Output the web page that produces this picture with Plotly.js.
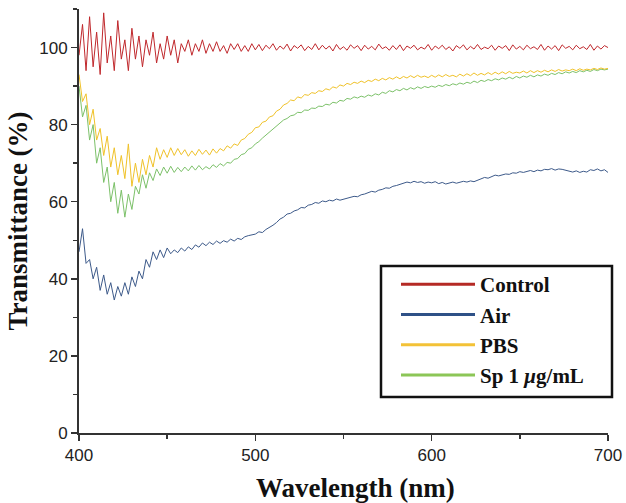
<!DOCTYPE html>
<html>
<head>
<meta charset="utf-8">
<script src="https://cdn.plot.ly/plotly-3.0.1.min.js"></script>
<style>html,body{margin:0;padding:0;background:#fff;}#chart{width:626px;height:503px;}</style>
</head>
<body>
<div id="chart"></div>
<script>
// Wavelength grid: 400 nm to 700 nm, every 2 nm
const wlStart = 400, wlStep = 2, wlCount = 151;
const wavelength = [];
for (let i = 0; i < wlCount; i++) wavelength.push(wlStart + i * wlStep);

const seriesNames = ["Control", "Air", "PBS", "Sp 1 <i>μ</i>g/mL"];

const control = [
  98, 106, 94, 108, 95, 104, 93, 109, 96, 103,
  94, 107, 97, 102, 94, 105, 97, 103, 95, 102,
  98, 104, 96, 101, 97, 103, 98, 102, 96, 101,
  99, 102, 98, 101, 99, 102, 98.5, 101, 99, 101.5,
  99, 100.5, 98.5, 101, 99.5, 101, 99, 100.5, 99, 101,
  99.4, 100.8, 99.2, 100.6, 99.7, 101, 99.3, 100.4, 99.6, 100.9,
  99.1, 100.5, 99.8, 100.7, 99.2, 100.3, 99.5, 101, 99.4, 100.6,
  99.6, 100.4, 99.1, 100.8, 99.5, 100.2, 99.3, 100.7, 99.8, 100.5,
  99.2, 100.6, 99.6, 100.3, 99.4, 100.9, 99.7, 100.2, 99.3, 100.5,
  99.5, 100.7, 99.2, 100.4, 99.8, 100.6, 99.4, 100.1, 99.6, 100.8,
  99.3, 100.4, 99.7, 100.6, 99.5, 100.2, 99.1, 100.5, 99.8, 100.7,
  99.4, 100.3, 99.6, 100.8, 99.5, 100.1, 99.7, 100.6, 99.3, 100.4,
  99.8, 100.5, 99.2, 100.7, 99.6, 100.3, 99.4, 100.6, 99.7, 100.2,
  99.5, 100.8, 99.3, 100.4, 99.6, 100.5, 99.2, 100.7, 99.8, 100.3,
  99.4, 100.6, 99.7, 100.2, 99.5, 100.8, 99.3, 100.4, 99.6, 100.5,
  100
];

const air = [
  47, 53, 44, 45, 40, 43, 37, 41, 36, 39,
  34.5, 38, 35.5, 39, 36, 40.5, 38, 42, 40, 45,
  43, 47, 45, 47.5, 45.5, 48, 46.5, 47.5, 46.8, 48,
  47.2, 48.3, 47.6, 48.8, 48.2, 49.3, 48.6, 49.5, 48.9, 49.8,
  49.2, 49.9, 49.5, 50.3, 49.8, 50.5, 50.2, 50.9, 51.2, 51.4,
  51.6, 52.2, 52.0, 52.8, 53.3, 53.9, 54.6, 55.5, 56.0, 56.8,
  57.0, 57.6, 57.9, 58.5, 58.4, 59.1, 59.3, 59.8, 59.6, 60.2,
  60.0, 60.4, 60.2, 60.7, 60.4, 60.6, 60.9, 61.0, 61.4, 61.3,
  61.8, 62.0, 62.3, 62.7, 62.5, 63.0, 63.2, 63.6, 63.5, 64.0,
  64.2, 64.5, 64.7, 65.1, 64.9, 65.3, 65.0, 65.2, 64.8, 65.1,
  64.9, 65.2, 64.7, 65.0, 64.6, 64.9, 65.1, 64.8, 65.0, 65.3,
  65.1, 65.4, 65.2, 65.6, 65.9, 66.3, 66.1, 66.6, 66.9, 66.7,
  67.0, 67.2, 67.1, 67.5, 67.4, 67.8, 67.6, 67.9, 68.1, 67.8,
  68.2, 68.0, 68.4, 68.3, 68.6, 68.2, 68.5, 68.4, 68.1, 67.9,
  67.7, 68.0, 67.6, 67.9, 67.7, 68.3, 68.1, 68.5, 68.0, 68.3,
  67.6
];

const pbs = [
  93, 86, 88, 80, 84, 76, 79, 72, 77, 69,
  74, 67, 72, 66, 75, 64, 70, 65, 71, 67,
  72, 69, 74, 71, 73.5, 71.5, 74, 72, 73.8, 72.2,
  73.5, 71.8, 73.2, 72, 73.6, 72.3, 73.4, 72.1, 73.7, 72.6,
  73.8, 73.2, 74.5, 73.9, 75.0, 74.6, 76.0, 76.4, 77.5, 78.0,
  79.2, 79.4, 80.6, 80.9, 82.0, 82.3, 83.5, 84.0, 85.1, 85.5,
  86.4, 86.2, 87.2, 86.9, 87.8, 87.6, 88.3, 88.1, 88.8, 88.6,
  89.3, 89.0, 89.8, 89.5, 90.3, 90.0, 90.7, 90.4, 91.0, 90.7,
  91.3, 90.9, 91.5, 91.2, 91.8, 91.4, 92.0, 91.6, 92.2, 91.8,
  92.4, 91.9, 92.5, 92.1, 92.7, 92.2, 92.8, 92.3, 92.6, 92.2,
  92.8, 92.3, 92.9, 92.4, 93.0, 92.5, 92.8, 92.4, 93.1, 92.6,
  93.2, 92.7, 93.4, 92.8, 93.3, 92.9, 93.5, 93.0, 93.6, 93.1,
  93.7, 93.2, 93.8, 93.3, 93.6, 93.4, 93.9, 93.4, 94.0, 93.5,
  94.0, 93.6, 94.1, 93.7, 94.2, 93.8, 94.3, 93.9, 94.2, 94.0,
  94.4, 94.0, 94.5, 94.1, 94.4, 94.2, 94.6, 94.3, 94.7, 94.4,
  94.6
];

const sp1 = [
  90, 82, 85, 76, 80, 70, 74, 65, 69, 60,
  65, 57, 63, 56, 62, 58, 64, 62, 67, 63.5,
  67.5, 65.5, 68.5, 66.8, 69, 67.4, 69.2, 67.6, 68.9, 67.8,
  69.0, 68.0, 69.3, 68.2, 69.4, 68.3, 69.1, 68.5, 69.6, 68.9,
  69.9, 69.3, 70.2, 70.0, 71.0, 71.2, 72.2, 72.5, 73.6, 74.0,
  75.0, 75.6, 76.5, 77.3, 78.2, 78.9, 79.8, 80.4, 81.2, 81.6,
  82.3, 82.5, 83.2, 83.1, 83.8, 83.7, 84.3, 84.2, 84.8, 84.7,
  85.3, 85.1, 85.8, 85.6, 86.3, 86.1, 86.8, 86.6, 87.2, 86.9,
  87.4, 87.1, 87.7, 87.4, 88.0, 87.7, 88.4, 88.1, 88.8, 88.5,
  89.1, 88.8, 89.4, 89.0, 89.6, 89.2, 89.8, 89.4, 89.9, 89.6,
  90.0, 89.7, 90.2, 89.9, 90.4, 90.1, 90.6, 90.3, 90.8, 90.5,
  91.0, 90.7, 91.3, 90.9, 91.5, 91.2, 91.7, 91.4, 91.9, 91.6,
  92.1, 91.8, 92.3, 91.9, 92.5, 92.1, 92.6, 92.3, 92.8, 92.4,
  92.9, 92.6, 93.1, 92.8, 93.3, 93.0, 93.5, 93.2, 93.7, 93.4,
  93.8, 93.5, 94.0, 93.7, 94.1, 93.8, 94.3, 94.0, 94.4, 94.2,
  94.4
];

const xTicks = [400, 500, 600, 700];
const yTicks = [0, 20, 40, 60, 80, 100];

const seriesData = [control, air, pbs, sp1];
const lineColors = ["#c0282c", "#3d5a8a", "#f0c229", "#7cc169"];
const legendColors = ["#b52a25", "#2f5187", "#f3c237", "#8cc657"];

const traces = [];
const drawOrder = [3, 2, 1, 0];
drawOrder.forEach(i => {
  traces.push({
    x: wavelength, y: seriesData[i], type: "scatter", mode: "lines",
    line: {color: lineColors[i], width: 1}, showlegend: false, hoverinfo: "skip"
  });
});
seriesNames.forEach((n, i) => {
  traces.push({
    x: [null], y: [null], type: "scatter", mode: "lines", name: n,
    line: {color: legendColors[i], width: 3}, showlegend: true
  });
});

const tickFont = {family: "Liberation Sans, Arial, sans-serif", size: 17, color: "#222"};
const titleFont = {family: "Liberation Serif, Times New Roman, serif", size: 27, color: "#111", weight: "bold"};

// plot area in pixels: left 79, right 608, top 9, bottom 433
const plotL = 79, plotR = 608, plotT = 9, plotB = 433;
const px = v => (v - plotL) / (plotR - plotL);
const py = v => (plotB - v) / (plotB - plotT);

const layout = {
  width: 626, height: 503,
  margin: {l: plotL, r: 626 - plotR, t: plotT, b: 503 - plotB},
  paper_bgcolor: "#fff", plot_bgcolor: "#fff",
  showlegend: true,
  xaxis: {
    range: [400, 700], tickvals: xTicks, ticktext: xTicks.map(String),
    ticks: "outside", ticklen: 6, tickwidth: 1.5, tickcolor: "#333",
    minor: {dtick: 50, ticks: "outside", ticklen: 4, tickwidth: 1.5, tickcolor: "#333", tick0: 400},
    showline: true, linecolor: "#333", linewidth: 2, showgrid: false, zeroline: false,
    tickfont: tickFont
  },
  yaxis: {
    range: [0, 110], tickvals: yTicks, ticktext: yTicks.map(String),
    ticks: "outside", ticklen: 6, tickwidth: 1.5, tickcolor: "#333",
    minor: {dtick: 10, ticks: "outside", ticklen: 4, tickwidth: 1.5, tickcolor: "#333", tick0: 0},
    showline: true, linecolor: "#333", linewidth: 2, showgrid: false, zeroline: false,
    tickfont: tickFont,
    title: {text: "<b>Transmittance (%)</b>", font: titleFont, standoff: 4}
  },
  annotations: [{
    text: "<b>Wavelength (nm)</b>", xref: "paper", yref: "paper",
    x: px(355), y: py(488), xanchor: "center", yanchor: "middle",
    showarrow: false, font: titleFont
  }],
  shapes: [{
    type: "rect", xref: "paper", yref: "paper",
    x0: px(381), x1: px(612), y0: py(397), y1: py(266),
    line: {color: "#111", width: 2.5}, fillcolor: "rgba(0,0,0,0)", layer: "above"
  }],
  legend: {
    x: px(396), y: py(264), xanchor: "left", yanchor: "top",
    borderwidth: 0, bgcolor: "rgba(0,0,0,0)",
    font: {family: "Liberation Serif, Times New Roman, serif", size: 21, color: "#111", weight: "bold"},
    itemwidth: 74, tracegroupgap: 0
  }
};

Plotly.newPlot("chart", traces, layout, {staticPlot: true, displayModeBar: false});
</script>
</body>
</html>
